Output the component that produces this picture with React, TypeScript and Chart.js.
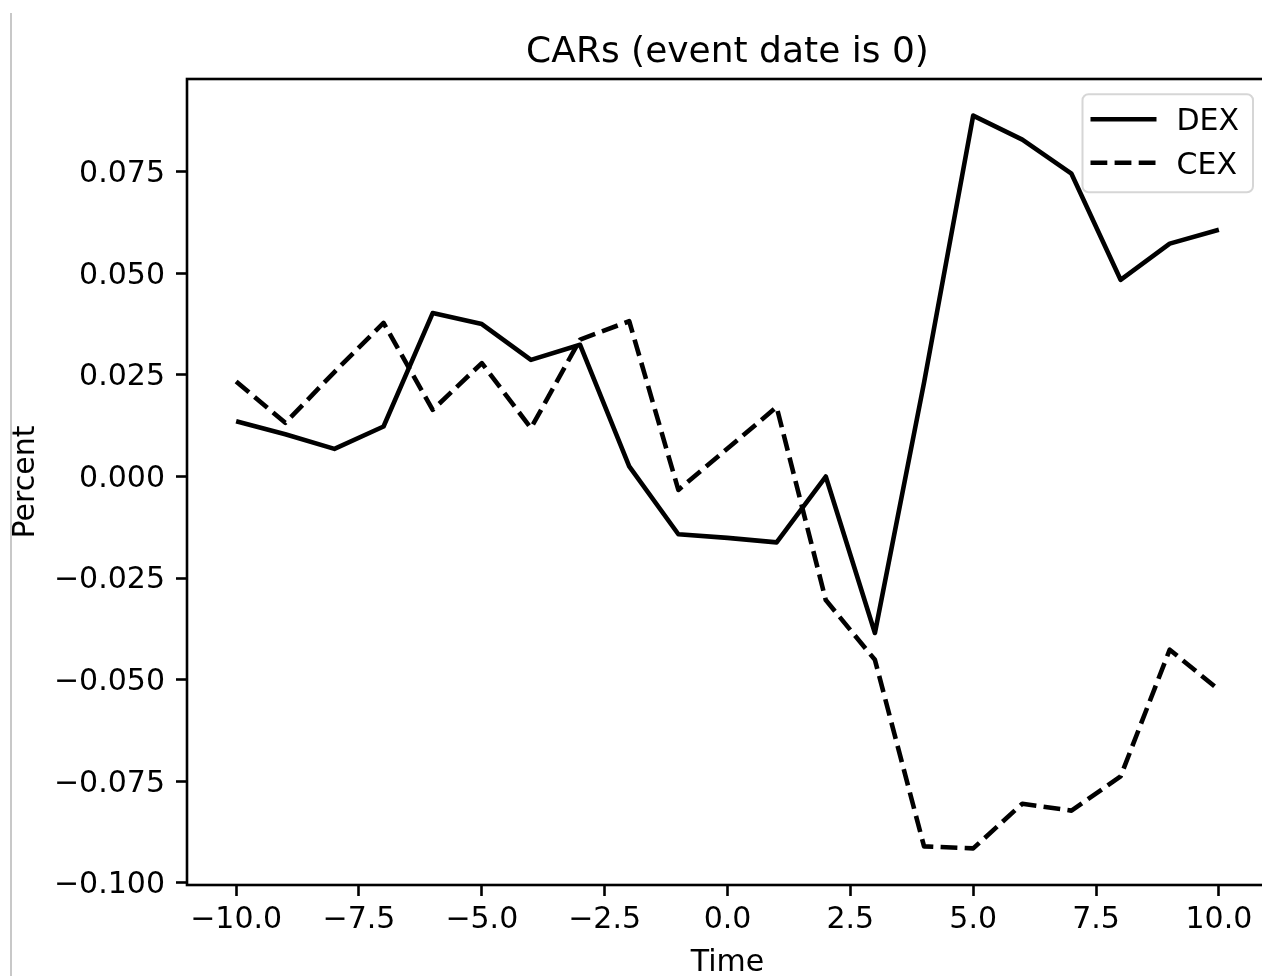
import React, { useEffect, useRef } from "react";
import { Chart, registerables } from "chart.js";

Chart.register(...registerables);

const TITLE = "CARs (event date is 0)";
const X_LABEL = "Time";
const Y_LABEL = "Percent";

const TIME = [-10, -9, -8, -7, -6, -5, -4, -3, -2, -1, 0, 1, 2, 3, 4, 5, 6, 7, 8, 9, 10];
const DEX = [0.0136, 0.0104, 0.0068, 0.0123, 0.0402, 0.0375, 0.0287, 0.0324, 0.0025, -0.0142, -0.0151, -0.0162, 0.0, -0.0385, 0.0231, 0.0888, 0.0829, 0.0745, 0.0484, 0.0573, 0.0607];
const CEX = [0.0234, 0.0132, 0.0257, 0.0378, 0.0164, 0.0279, 0.0119, 0.0337, 0.0382, -0.0033, 0.0069, 0.0171, -0.0304, -0.0451, -0.091, -0.0915, -0.0805, -0.0822, -0.0738, -0.0426, -0.0525];

const X_TICKS = [-10, -7.5, -5, -2.5, 0, 2.5, 5, 7.5, 10];
const Y_TICKS = [-0.1, -0.075, -0.05, -0.025, 0, 0.025, 0.05, 0.075];

const FONT = "'DejaVu Sans', sans-serif";
const LINE_W = 4.6;
const DASH = [16.8, 7.3];

const fmt = (v: number, d: number) => {
  const s = Math.abs(v).toFixed(d);
  return v < 0 ? "\u2212" + s : s;
};

const decorPlugin = {
  id: "decor",
  afterDraw(chart: any) {
    const { ctx, chartArea } = chart;
    const { left, top, right, bottom } = chartArea;
    ctx.save();
    // spines
    ctx.strokeStyle = "#000";
    ctx.lineWidth = 2.6;
    ctx.strokeRect(left, top, right - left, bottom - top);
    // title
    ctx.fillStyle = "#000";
    ctx.font = `36px ${FONT}`;
    ctx.textAlign = "center";
    ctx.textBaseline = "alphabetic";
    ctx.fillText(TITLE, (left + right) / 2, top - 17);
    // legend
    const bx = right - 185.5;
    const by = top + 15.3;
    const bw = 170.5;
    const bh = 98;
    const r = 6;
    ctx.beginPath();
    ctx.moveTo(bx + r, by);
    ctx.lineTo(bx + bw - r, by);
    ctx.arcTo(bx + bw, by, bx + bw, by + r, r);
    ctx.lineTo(bx + bw, by + bh - r);
    ctx.arcTo(bx + bw, by + bh, bx + bw - r, by + bh, r);
    ctx.lineTo(bx + r, by + bh);
    ctx.arcTo(bx, by + bh, bx, by + bh - r, r);
    ctx.lineTo(bx, by + r);
    ctx.arcTo(bx, by, bx + r, by, r);
    ctx.closePath();
    ctx.fillStyle = "rgba(255,255,255,0.8)";
    ctx.fill();
    ctx.strokeStyle = "#d6d6d6";
    ctx.lineWidth = 2;
    ctx.stroke();
    const items = chart.data.datasets.map((ds: any) => ({ label: ds.label, dash: ds.borderDash || [] }));
    items.forEach((it: any, i: number) => {
      const y = by + 25 + i * 43.4;
      ctx.beginPath();
      ctx.setLineDash(it.dash);
      ctx.lineDashOffset = 0;
      ctx.strokeStyle = "#000";
      ctx.lineWidth = LINE_W;
      ctx.lineCap = "butt";
      ctx.moveTo(bx + 8, y);
      ctx.lineTo(bx + 74, y);
      ctx.stroke();
      ctx.setLineDash([]);
      ctx.fillStyle = "#000";
      ctx.font = `30px ${FONT}`;
      ctx.textAlign = "left";
      ctx.textBaseline = "alphabetic";
      ctx.fillText(it.label, bx + 94, y + 11);
    });
    ctx.restore();
  },
};

export default function App() {
  const ref = useRef<HTMLCanvasElement | null>(null);
  useEffect(() => {
    if (!ref.current) return;
    Chart.defaults.font.family = FONT;
    const chart = new Chart(ref.current, {
      type: "line",
      data: {
        datasets: [
          {
            label: "DEX",
            data: TIME.map((t, i) => ({ x: t, y: DEX[i] })),
            borderColor: "#000",
            borderWidth: LINE_W,
            pointRadius: 0,
            tension: 0,
            fill: false,
            borderJoinStyle: "round",
          },
          {
            label: "CEX",
            data: TIME.map((t, i) => ({ x: t, y: CEX[i] })),
            borderColor: "#000",
            borderWidth: LINE_W,
            borderDash: DASH,
            pointRadius: 0,
            tension: 0,
            fill: false,
            borderJoinStyle: "round",
          },
        ],
      },
      options: {
        animation: false,
        responsive: false,
        devicePixelRatio: 1,
        layout: { padding: { left: 0, top: 79, right: 32, bottom: 0 } },
        plugins: {
          legend: { display: false },
          title: { display: false },
          tooltip: { enabled: false },
        },
        scales: {
          x: {
            type: "linear",
            min: -11,
            max: 11,
            afterBuildTicks: (s: any) => {
              s.ticks = X_TICKS.map((v) => ({ value: v }));
            },
            afterFit: (s: any) => {
              s.height = 91;
              s.paddingLeft = 0;
              s.paddingRight = 0;
            },
            border: { display: false },
            grid: {
              drawOnChartArea: false,
              drawTicks: true,
              tickLength: 11,
              tickWidth: 2.6,
              tickColor: "#000",
            },
            ticks: {
              color: "#000",
              font: { size: 30, family: FONT },
              padding: 6,
              maxRotation: 0,
              autoSkip: false,
              callback: (v: any) => fmt(Number(v), 1),
            },
            title: {
              display: true,
              text: X_LABEL,
              color: "#000",
              font: { size: 30, family: FONT, lineHeight: 0.8 },
              padding: { top: 0, bottom: 1 },
            },
          },
          y: {
            type: "linear",
            min: -0.1005,
            max: 0.0978,
            afterBuildTicks: (s: any) => {
              s.ticks = Y_TICKS.map((v) => ({ value: v }));
            },
            afterFit: (s: any) => {
              s.width = 187;
              s.paddingTop = 0;
              s.paddingBottom = 0;
            },
            border: { display: false },
            grid: {
              drawOnChartArea: false,
              drawTicks: true,
              tickLength: 11,
              tickWidth: 2.6,
              tickColor: "#000",
            },
            ticks: {
              color: "#000",
              font: { size: 30, family: FONT },
              padding: 11,
              labelOffset: 2.5,
              autoSkip: false,
              callback: (v: any) => fmt(Number(v), 3),
            },
            title: {
              display: true,
              text: Y_LABEL,
              color: "#000",
              font: { size: 30, family: FONT, lineHeight: 1.2 },
              padding: { top: 8, bottom: 0 },
            },
          },
        },
      },
      plugins: [decorPlugin],
    } as any);
    return () => chart.destroy();
  }, []);

  return (
    <div
      style={{
        position: "absolute",
        left: 0,
        top: 0,
        width: 1262,
        height: 976,
        overflow: "hidden",
        background: "#fff",
      }}
    >
      <canvas ref={ref} width={1300} height={976} style={{ position: "absolute", left: 0, top: 0, width: 1300, height: 976 }} />
      <div style={{ position: "absolute", left: 10, top: 13, width: 2, height: 963, background: "#c8c8c8" }} />
    </div>
  );
}
